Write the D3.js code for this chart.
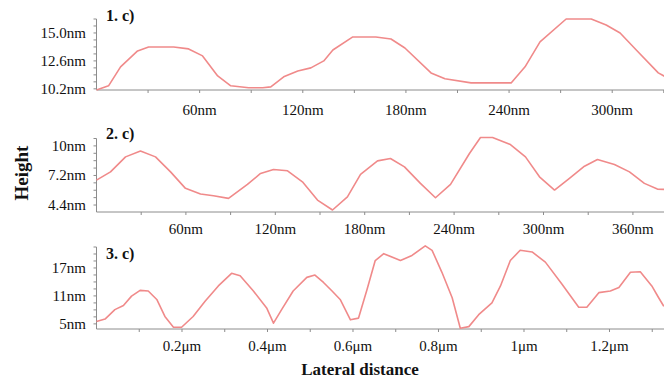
<!DOCTYPE html>
<html>
<head>
<meta charset="utf-8">
<script src="https://cdn.jsdelivr.net/npm/d3@7/dist/d3.min.js"></script>
<style>
  html, body { margin: 0; padding: 0; background: #fff; }
  svg { display: block; }
  text { font-family: "Liberation Serif", "Times New Roman", serif; fill: #111; }
</style>
</head>
<body>
<svg id="chart" width="664" height="384"></svg>
<script>
// Profile 1: lateral distance (nm) vs height (nm)
const p1X = [0, 7, 14, 23.9, 30.3, 44.9, 53.6, 61.7, 70.5, 78.1, 88.5, 96.7, 101.4, 108.9, 117.1, 124.7, 132.2, 137.5, 149.1, 162.5, 171.3, 179.4, 194.6, 202.7, 217.9, 241.2, 249.3, 258, 273.2, 287.8, 296.5, 304.6, 314, 326.8, 331];
const p1Y = [10.11, 10.46, 12.09, 13.46, 13.8, 13.8, 13.63, 13.03, 11.31, 10.46, 10.29, 10.29, 10.37, 11.23, 11.74, 12.0, 12.6, 13.54, 14.66, 14.66, 14.48, 13.71, 11.57, 11.06, 10.71, 10.71, 12.09, 14.23, 16.2, 16.2, 15.68, 15.0, 13.54, 11.57, 11.23];
const p1Ticks = [10.2, 12.6, 15.0];
const p1XTicks = [60, 120, 180, 240, 300];

// Profile 2: lateral distance (nm) vs height (nm)
const p2X = [0, 9.4, 19.5, 29.5, 39.6, 49.7, 59.7, 69.8, 78.5, 88.6, 101.3, 110.1, 118.8, 128.2, 138.2, 148.3, 158.4, 168.4, 177.2, 188.6, 197.3, 206.7, 217.4, 227.5, 237.6, 250.3, 257.7, 265.8, 277.8, 287.9, 297.3, 307.4, 317.4, 327.5, 336.2, 347.6, 357.7, 367.7, 376.4, 381.2];
const p2Y = [6.76, 7.54, 8.96, 9.52, 8.96, 7.54, 5.98, 5.44, 5.28, 5.03, 6.35, 7.39, 7.77, 7.64, 6.6, 4.87, 3.93, 5.18, 7.3, 8.58, 8.81, 8.01, 6.45, 5.09, 6.35, 9.28, 10.8, 10.8, 10.13, 8.96, 7.07, 5.82, 6.92, 8.08, 8.71, 8.24, 7.54, 6.45, 5.91, 5.88];
const p2Ticks = [4.4, 7.2, 10];
const p2XTicks = [60, 120, 180, 240, 300, 360];

// Profile 3: lateral distance (µm) vs height (nm)
const p3X = [0, 0.02, 0.043, 0.063, 0.082, 0.102, 0.121, 0.141, 0.16, 0.18, 0.199, 0.226, 0.254, 0.285, 0.316, 0.336, 0.367, 0.398, 0.414, 0.433, 0.46, 0.492, 0.511, 0.531, 0.551, 0.57, 0.594, 0.613, 0.633, 0.652, 0.672, 0.711, 0.738, 0.769, 0.785, 0.808, 0.832, 0.851, 0.871, 0.894, 0.925, 0.945, 0.968, 0.991, 1.019, 1.05, 1.089, 1.128, 1.147, 1.175, 1.202, 1.222, 1.249, 1.272, 1.299, 1.315, 1.327];
const p3Y = [5.5, 6.03, 8.06, 8.93, 10.96, 12.2, 12.05, 10.24, 6.59, 4.28, 4.28, 6.59, 9.87, 13.14, 15.85, 15.33, 12.05, 8.43, 5.15, 8.06, 12.05, 14.98, 15.48, 13.89, 12.05, 10.24, 5.87, 6.24, 12.42, 18.6, 20.07, 18.6, 19.69, 21.75, 20.79, 16.07, 10.61, 4.06, 4.41, 6.97, 9.52, 13.14, 18.6, 20.79, 20.44, 18.25, 13.52, 8.56, 8.56, 11.7, 12.05, 12.79, 16.07, 16.2, 13.14, 10.61, 8.78];
const p3Ticks = [5, 11, 17];
const p3XTicks = [0.2, 0.4, 0.6, 0.8, 1.0, 1.2];

const titles = ["1. c)", "2. c)", "3. c)"];

const svg = d3.select("#chart");
const lineColor = "#f08a8a";
const axisColor = "#8c8c8c";

const panels = [
  { xs: p1X, ys: p1Y, yTicks: p1Ticks, xTicks: p1XTicks, xMax: 331, yDom: [10.1, 16.2], yStep: 0.6, xStep: 30,
    top: 19, bottom: 90, xEnd: 569, yFmt: d => d.toFixed(1) + "nm", xFmt: d => d + "nm", title: titles[0], titleY: 21, labelY: 115 },
  { xs: p2X, ys: p2Y, yTicks: p2Ticks, xTicks: p2XTicks, xMax: 381.2, yDom: [3.74, 10.7], yStep: 0.7, xStep: 30,
    top: 138.5, bottom: 212, xEnd: 568, yFmt: d => (d === 10 ? "10" : d.toFixed(1)) + "nm", xFmt: d => d + "nm", title: titles[1], titleY: 139, labelY: 234 },
  { xs: p3X, ys: p3Y, yTicks: p3Ticks, xTicks: p3XTicks, xMax: 1.3275, yDom: [3.9, 21.5], yStep: 1.5, xStep: 0.1,
    top: 247, bottom: 329, xEnd: 567.5, yFmt: d => d + "nm", xFmt: d => (d === 1 ? "1" : d.toFixed(1)) + "μm", title: titles[2], titleY: 259, labelY: 351 }
];

const left = 96.5;

panels.forEach(p => {
  const x = d3.scaleLinear().domain([0, p.xMax]).range([left, left + p.xEnd]);
  const y = d3.scaleLinear().domain(p.yDom).range([p.bottom, p.top]);
  const g = svg.append("g");

  // y axis line with minor ticks
  g.append("line").attr("x1", left).attr("x2", left).attr("y1", p.top).attr("y2", p.bottom)
    .attr("stroke", axisColor).attr("stroke-width", 1);
  const yMinor = d3.range(p.yTicks[0] - Math.floor((p.yTicks[0] - p.yDom[0]) / p.yStep + 1e-6) * p.yStep,
                          p.yDom[1] + 1e-6, p.yStep);
  g.selectAll(".ym").data(yMinor).join("line")
    .attr("x1", left - 3).attr("x2", left).attr("y1", d => y(d)).attr("y2", d => y(d))
    .attr("stroke", axisColor).attr("stroke-width", 1);
  g.selectAll(".yl").data(p.yTicks).join("text")
    .attr("x", 86).attr("y", d => y(d) + 5)
    .attr("text-anchor", "end").attr("font-size", 15)
    .text(p.yFmt);

  // x axis line with ticks
  g.append("line").attr("x1", left).attr("x2", 664).attr("y1", p.bottom).attr("y2", p.bottom)
    .attr("stroke", axisColor).attr("stroke-width", 1);
  const xMinor = d3.range(p.xStep, p.xMax, p.xStep);
  g.selectAll(".xm").data(xMinor).join("line")
    .attr("x1", d => x(d)).attr("x2", d => x(d)).attr("y1", p.bottom).attr("y2", p.bottom + 3)
    .attr("stroke", axisColor).attr("stroke-width", 1);
  g.selectAll(".xl").data(p.xTicks).join("text")
    .attr("x", d => x(d)).attr("y", p.labelY)
    .attr("text-anchor", "middle").attr("font-size", 15)
    .text(p.xFmt);

  // profile curve
  const pts = p.xs.map((v, i) => [v, p.ys[i]]);
  g.append("path").datum(pts)
    .attr("fill", "none").attr("stroke", lineColor).attr("stroke-width", 1.6)
    .attr("stroke-linejoin", "round")
    .attr("d", d3.line().x(d => x(d[0])).y(d => y(d[1])));

  g.append("text").attr("x", 106).attr("y", p.titleY)
    .attr("font-size", 16).attr("font-weight", "bold").text(p.title);
});

// shared axis titles
svg.append("text").attr("transform", "translate(28,173) rotate(-90)")
  .attr("text-anchor", "middle").attr("font-size", 19).attr("font-weight", "bold").text("Height");
svg.append("text").attr("x", 360).attr("y", 375)
  .attr("text-anchor", "middle").attr("font-size", 17).attr("font-weight", "bold").text("Lateral distance");
</script>
</body>
</html>
